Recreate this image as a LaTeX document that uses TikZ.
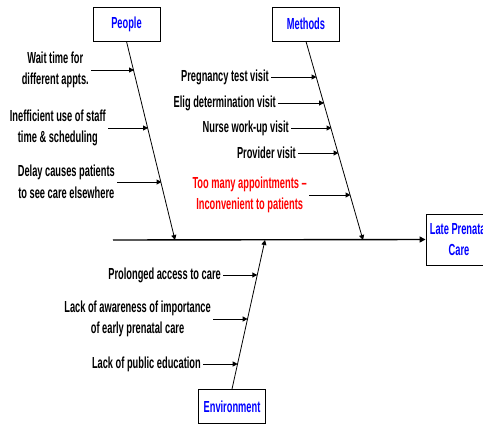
\documentclass[tikz,border=0pt]{standalone}
\usepackage{fontspec}
\setmainfont{Liberation Sans}[FakeStretch=0.58]
\usetikzlibrary{arrows.meta}
\definecolor{lblue}{RGB}{0,0,255}
\definecolor{lred}{RGB}{255,0,0}
\begin{document}
\begin{tikzpicture}[x=1pt,y=-1pt,
  catbox/.style={draw=black,line width=0.9pt,minimum width=67pt,minimum height=34pt,inner sep=0pt,
     font=\fontsize{16}{21.5}\selectfont\bfseries,text=lblue,align=center},
  cause/.style={font=\fontsize{16}{21.5}\selectfont\bfseries,align=center,inner sep=2pt,anchor=east},
  spine/.style={line width=0.8pt,-{Triangle[length=5pt,width=5pt]}},
  arr/.style={line width=1pt,-{Triangle[length=5pt,width=5pt]}},
  mainline/.style={line width=1.4pt,-{Triangle[length=6pt,width=6pt]}}]
\useasboundingbox (0,0) rectangle (483,424);
% category boxes
\node[catbox] (people) at (126.5,24) {People};
\node[catbox] (methods) at (306,24) {Methods};
\node[catbox] (env) at (232,406.5) {Environment};
\node[catbox,minimum width=66pt,minimum height=51pt] (late) at (459,239.5) {Late Prenatal\\Care};
% main line
\coordinate (tail) at (113,240);
\draw[mainline] (tail) -- (late.west);
% spine ends
\coordinate (pend) at (175,240);
\coordinate (mend) at (363,240);
\coordinate (eend) at (265,240);
\draw[spine] (people.south) -- (pend);
\draw[spine] (methods.south) -- (mend);
\draw[spine] (env.north) -- (eend);
% people causes
\node[cause] (p1) at (91,70) {Wait time for\\different appts.};
\node[cause] (p2) at (108,128) {Inefficient use of staff\\time \& scheduling};
\node[cause] (p3) at (117,182) {Delay causes patients\\to see care elsewhere};
\coordinate (p1s) at (134,70);
\coordinate (p2s) at (148,128);
\coordinate (p3s) at (161.5,182);
\draw[arr] (p1.east) -- (p1s);
\draw[arr] (p2.east) -- (p2s);
\draw[arr] (p3.east) -- (p3s);
% methods causes
\node[cause] (m1) at (271,77) {Pregnancy test visit};
\node[cause] (m2) at (278,103) {Elig determination visit};
\node[cause] (m3) at (291,128) {Nurse work-up visit};
\node[cause] (m4) at (298,153) {Provider visit};
\node[cause,text=lred] (m5) at (309,195) {Too many appointments –\\Inconvenient to patients};
\coordinate (m1s) at (316.5,77);
\coordinate (m2s) at (324,103);
\coordinate (m3s) at (331.5,128);
\coordinate (m4s) at (338.5,153);
\coordinate (m5s) at (350.5,195);
\draw[arr] (m1.east) -- (m1s);
\draw[arr] (m2.east) -- (m2s);
\draw[arr] (m3.east) -- (m3s);
\draw[arr] (m4.east) -- (m4s);
\draw[arr] (m5.east) -- (m5s);
% environment causes
\node[cause] (e1) at (223,275) {Prolonged access to care};
\node[cause] (e2) at (213,319) {Lack of awareness of importance\\of early prenatal care};
\node[cause] (e3) at (203,364) {Lack of public education};
\coordinate (e1s) at (257.3,275);
\coordinate (e2s) at (247.6,319);
\coordinate (e3s) at (237.7,364);
\draw[arr] (e1.east) -- (e1s);
\draw[arr] (e2.east) -- (e2s);
\draw[arr] (e3.east) -- (e3s);
\end{tikzpicture}
\end{document}
